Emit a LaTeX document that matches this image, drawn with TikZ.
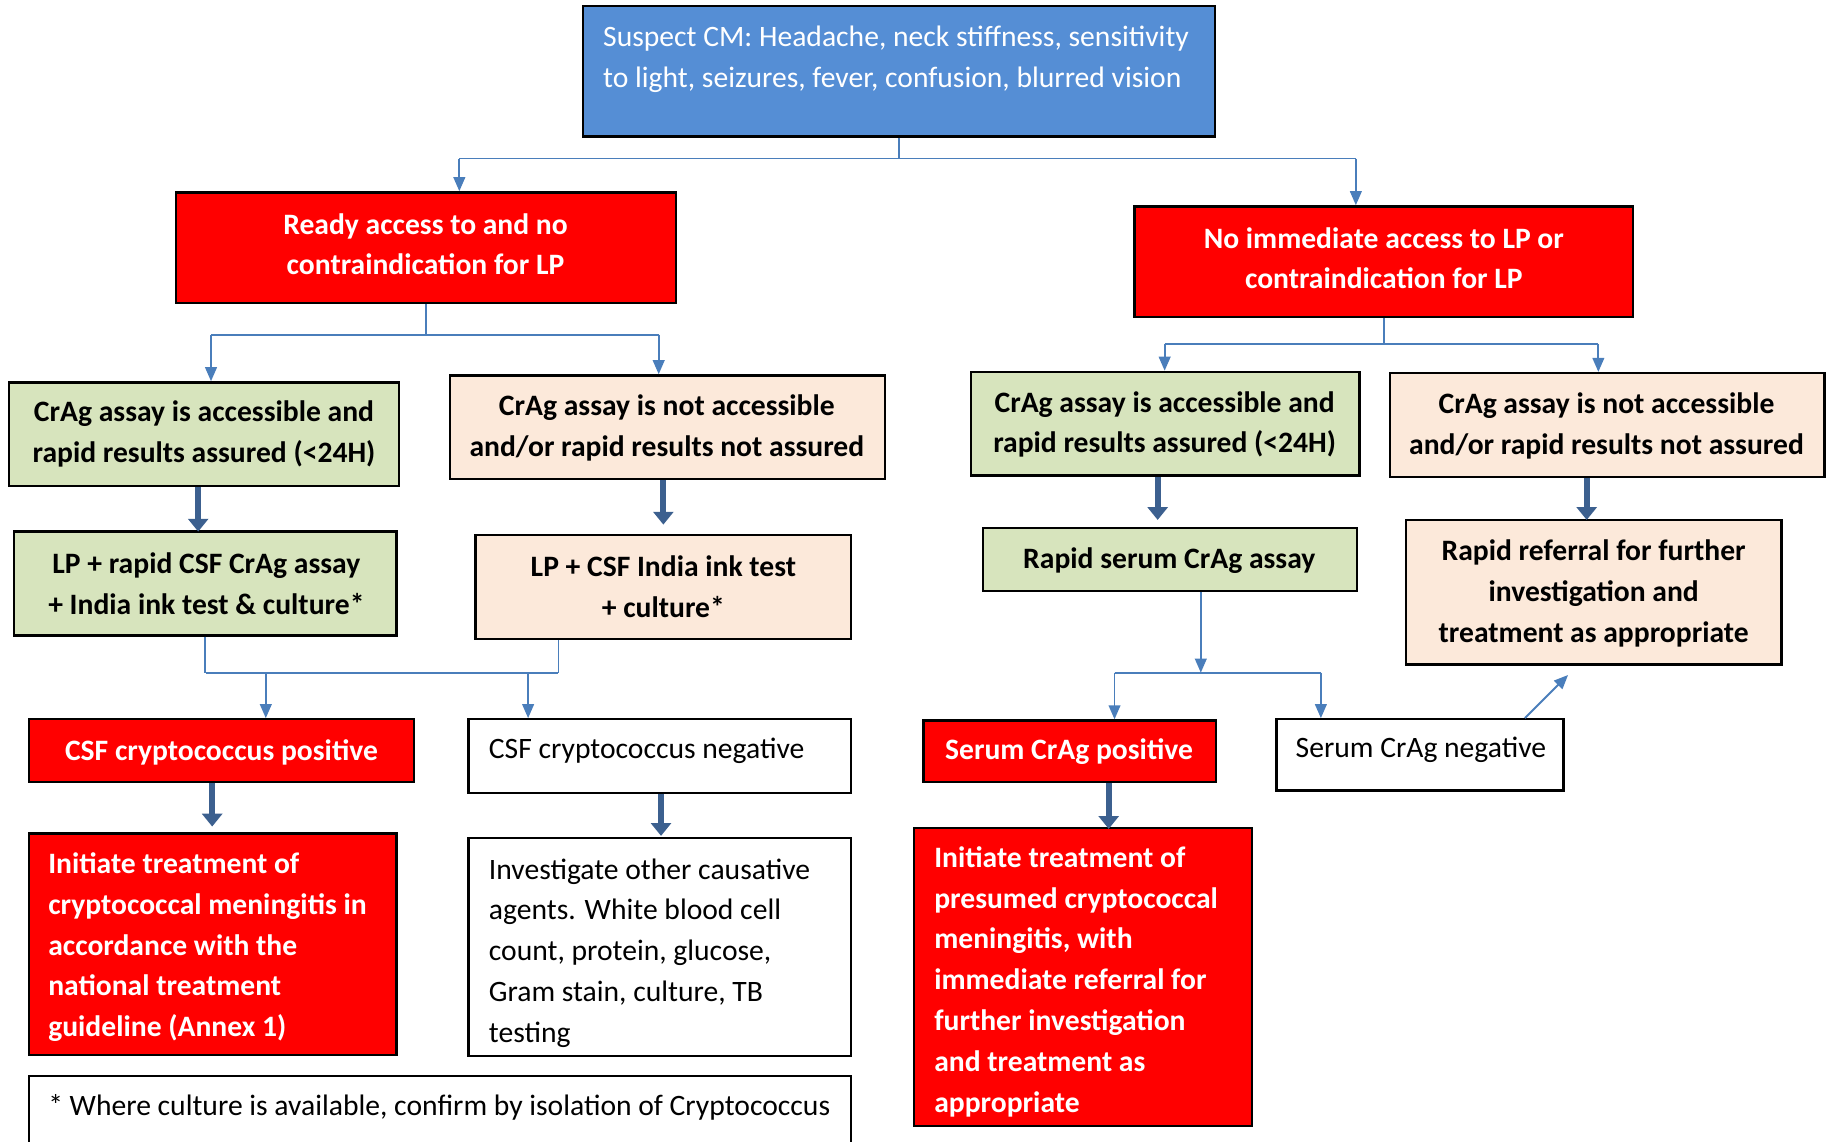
\documentclass[tikz,border=0pt]{standalone}
\usepackage{fontspec}
\setmainfont{Carlito}
\usetikzlibrary{arrows.meta}
\definecolor{cmblue}{RGB}{85,142,213}
\definecolor{cmred}{RGB}{255,0,0}
\definecolor{cmgreen}{RGB}{215,228,189}
\definecolor{cmpeach}{RGB}{252,233,218}
\definecolor{connblue}{RGB}{74,126,187}
\definecolor{bigblue}{RGB}{60,96,143}
\begin{document}
\begin{tikzpicture}[x=0.5pt,y=-0.5pt,
  box/.style={draw=black, line width=1pt, inner sep=0pt, rectangle},
  txt/.style={inner sep=0pt, yshift=-1pt, font=\fontsize{12.7}{17.5}\selectfont},
  btxt/.style={inner sep=0pt, yshift=-1pt, font=\fontsize{12.7}{17.5}\selectfont\bfseries},
  conn/.style={draw=connblue, line width=0.8pt},
  connarrow/.style={conn, -{Triangle[width=5pt,length=6pt]}},
  bigarrow/.style={draw=bigblue, line width=2.6pt, -{Triangle[width=8.5pt,length=5.5pt]}}]
\useasboundingbox (0,0) rectangle (1568,979);
\clip (0,0) rectangle (1568,979);
\fill[white] (0,0) rectangle (1568,979);

% boxes
\node[box, fill=cmblue, minimum width=271pt, minimum height=56pt] (blue) at (771,61) {};
\node[txt, text=white, anchor=west, align=left] (bluet) at (517,48.5) {Suspect CM: Headache, neck stiffness, sensitivity\\to light, seizures, fever, confusion, blurred vision};

\node[box, fill=cmred, minimum width=214.5pt, minimum height=47.5pt] (redL) at (365.5,212.5) {};
\node[btxt, text=white, align=center] (redLt) at (365,207.5) {Ready access to and no\\contraindication for LP};

\node[box, fill=cmred, minimum width=214pt, minimum height=47.5pt] (redR) at (1187,224.5) {};
\node[btxt, text=white, align=center] (redRt) at (1187,219.5) {No immediate access to LP or\\contraindication for LP};

\node[box, fill=cmgreen, minimum width=167pt, minimum height=44.5pt] (gL1) at (175,372.5) {};
\node[btxt, align=center] (gL1t) at (175,370.5) {CrAg assay is accessible and\\rapid results assured (<24H)};

\node[box, fill=cmpeach, minimum width=186.5pt, minimum height=44.5pt] (pL2) at (572.5,366.5) {};
\node[btxt, align=center] (pL2t) at (572,365) {CrAg assay is not accessible\\and/or rapid results not assured};

\node[box, fill=cmgreen, minimum width=166.5pt, minimum height=44.5pt] (gR1) at (999.5,363.5) {};
\node[btxt, align=center] (gR1t) at (999,362) {CrAg assay is accessible and\\rapid results assured (<24H)};

\node[box, fill=cmpeach, minimum width=186.5pt, minimum height=44.5pt] (pR2) at (1378.5,364.5) {};
\node[btxt, align=center] (pR2t) at (1378,363.5) {CrAg assay is not accessible\\and/or rapid results not assured};

\node[box, fill=cmgreen, minimum width=164pt, minimum height=44.5pt] (gL3) at (176,500.5) {};
\node[btxt, align=center] (gL3t) at (177,498.5) {LP + rapid CSF CrAg assay\\+ India ink test \& culture*};

\node[box, fill=cmpeach, minimum width=161pt, minimum height=44.5pt] (pL4) at (569,503.5) {};
\node[btxt, align=center] (pL4t) at (569,501.5) {LP + CSF India ink test\\+ culture*};

\node[box, fill=cmgreen, minimum width=160.5pt, minimum height=27pt] (gR3) at (1003.5,480) {};
\node[btxt] (gR3t) at (1003,479) {Rapid serum CrAg assay};

\node[box, fill=cmpeach, minimum width=161pt, minimum height=62pt] (pR4) at (1367,508) {};
\node[btxt, align=center] (pR4t) at (1367,507) {Rapid referral for further\\investigation and\\treatment as appropriate};

\node[box, fill=cmred, minimum width=165pt, minimum height=27pt] (csfpos) at (190,644) {};
\node[btxt, text=white] (csfpost) at (190,643) {CSF cryptococcus positive};

\node[box, fill=white, minimum width=164pt, minimum height=31.5pt] (csfneg) at (566,648.5) {};
\node[txt, anchor=west] (csfnegt) at (419,642) {CSF cryptococcus negative};

\node[box, fill=cmred, minimum width=125.5pt, minimum height=26.5pt] (serpos) at (917.5,644.5) {};
\node[btxt, text=white] (serpost) at (917,643) {Serum CrAg positive};

\node[box, fill=white, minimum width=123pt, minimum height=30.5pt] (serneg) at (1218,647.5) {};
\node[txt, anchor=west] (sernegt) at (1111,641) {Serum CrAg negative};

\node[box, fill=cmred, minimum width=157.5pt, minimum height=95pt] (treatL) at (182.5,810) {};
\node[btxt, text=white, anchor=west, align=left] (treatLt) at (41,810.5) {Initiate treatment of\\cryptococcal meningitis in\\accordance with the\\national treatment\\guideline (Annex 1)};

\node[box, fill=white, minimum width=164pt, minimum height=93.5pt] (invest) at (566,812.5) {};
\node[txt, anchor=west, align=left] (investt) at (419,815.5) {Investigate other causative\\agents. White blood cell\\count, protein, glucose,\\Gram stain, culture, TB\\testing};

\node[box, fill=cmred, minimum width=145pt, minimum height=128pt] (treatR) at (929,838) {};
\node[btxt, text=white, anchor=west, align=left] (treatRt) at (801,840) {Initiate treatment of\\presumed cryptococcal\\meningitis, with\\immediate referral for\\further investigation\\and treatment as\\appropriate};

\node[box, fill=white, minimum width=352.5pt, minimum height=36pt] (foot) at (377.5,959) {};
\node[txt, anchor=west] (foott) at (41,948) {* Where culture is available, confirm by isolation of Cryptococcus};

% thin connectors
\coordinate (ja) at (394,136); \coordinate (jb) at (1163,136);
\draw[conn] (blue.south) -- (blue.south |- ja);
\draw[conn] (ja) -- (jb);
\draw[connarrow] (ja) -- (ja |- redL.north);
\draw[connarrow] (jb) -- (jb |- redR.north);

\coordinate (jc) at (181,287); \coordinate (jd) at (565,287);
\draw[conn] (redL.south) -- (redL.south |- jc);
\draw[conn] (jc) -- (jd);
\draw[connarrow] (jc) -- (jc |- gL1.north);
\draw[connarrow] (jd) -- (jd |- pL2.north);

\coordinate (je) at (999,295); \coordinate (jf) at (1371,295);
\draw[conn] (redR.south) -- (redR.south |- je);
\draw[conn] (je) -- (jf);
\draw[connarrow] (je) -- (je |- gR1.north);
\draw[connarrow] (jf) -- (jf |- pR2.north);

\coordinate (jg) at (177,577); \coordinate (jh) at (479,577);
\draw[conn] (gL3.south) -- (gL3.south |- jg);
\draw[conn] (pL4.south -| jh) -- (jh);
\draw[conn] (jg) -- (jh);
\coordinate (ji) at (228,577); \coordinate (jj) at (453,577);
\draw[connarrow] (ji) -- (ji |- csfpos.north);
\draw[connarrow] (jj) -- (jj |- csfneg.north);

\coordinate (jk) at (1030,577);
\draw[connarrow] (gR3.south -| jk) -- (jk);
\coordinate (jl) at (956,577); \coordinate (jm) at (1133,577);
\draw[conn] (jl) -- (jm);
\draw[connarrow] (jl) -- (jl |- serpos.north);
\draw[connarrow] (jm) -- (jm |- serneg.north);

\draw[connarrow] ([xshift=45pt]serneg.north) -- ([xshift=-11pt,yshift=-4pt]pR4.south);

% thick arrows
\draw[bigarrow] ([xshift=-2.5pt]gL1.south) -- ++(0,38);
\draw[bigarrow] ([xshift=-1.75pt]pL2.south) -- ++(0,38);
\draw[bigarrow] ([xshift=-3.25pt]gR1.south) -- ++(0,37);
\draw[bigarrow] ([xshift=-8.75pt]pR2.south) -- ++(0,36);
\draw[bigarrow] ([xshift=-4pt]csfpos.south) -- ++(0,37);
\draw[bigarrow] ([xshift=0.5pt]csfneg.south) -- ++(0,36);
\draw[bigarrow] ([xshift=16.75pt]serpos.south) -- ++(0,39);
\end{tikzpicture}
\end{document}
